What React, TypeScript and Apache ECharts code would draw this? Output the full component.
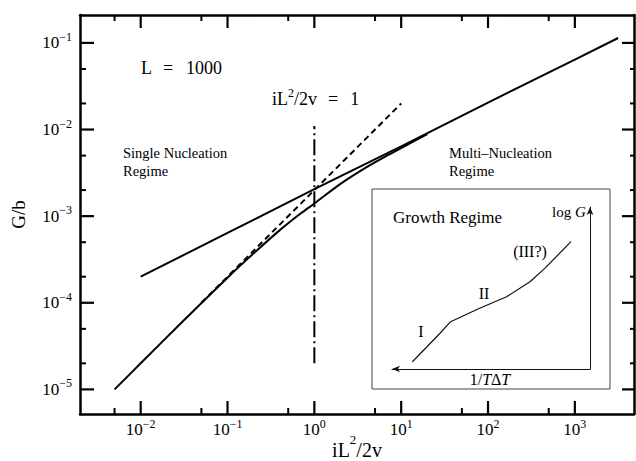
import React, { useEffect, useRef } from "react";
import * as echarts from "echarts";

// ---- data ----
const xMajor = [1e-2, 1e-1, 1, 1e1, 1e2, 1e3];
const xMinor = [5e-3, 5e-2, 5e-1, 5, 50, 500];
const yMajor = [1e-5, 1e-4, 1e-3, 1e-2, 1e-1];
const yMinor = [2e-5, 5e-5, 2e-4, 5e-4, 2e-3, 5e-3, 2e-2, 5e-2];

const upperX = [0.01, 0.1, 1, 10, 100, 1000, 3150];
const upperY = [2.0e-4, 6.4e-4, 2.05e-3, 6.4e-3, 2.05e-2, 6.4e-2, 0.114];

const lowerX = [0.005, 0.01, 0.03, 0.1, 0.2, 0.4, 0.7, 1, 2, 4, 7, 12, 20];
const lowerY = [1.0e-5, 2.0e-5, 6.0e-5, 1.95e-4, 3.72e-4, 6.9e-4, 1.08e-3, 1.4e-3, 2.36e-3, 3.68e-3, 5.05e-3, 6.75e-3, 8.85e-3];

const dashX = [0.05, 10];
const dashY = [1.0e-4, 2.0e-2];

const markX = [1, 1];
const markY = [2.0e-5, 1.1e-2];

const insetX = [10.3, 23.9, 29.6, 43.4, 57.9, 69.7, 77.3, 90.4];
const insetY = [4.5, 21.6, 29.2, 37.0, 44.6, 53.9, 62.3, 78.6];

const xMin = 2e-3;
const xMax = 4.8e3;
const yMin = 5.2e-6;
const yMax = 0.21;

// plot area (pixels)
const G = { left: 80, top: 15, width: 554, height: 399 };

const serif = '"Liberation Serif", "Times New Roman", serif';

const zip = (a: number[], b: number[]) => a.map((v, i) => [v, b[i]]);

function supLabel(v: number) {
  const e = Math.round(Math.log10(v));
  const s = e < 0 ? "\u2212" + -e : String(e);
  return `{b|10}{s|${s}}`;
}

const tickRich = {
  b: { fontFamily: serif, fontSize: 17, lineHeight: 17, color: "#000", verticalAlign: "middle" },
  s: { fontFamily: serif, fontSize: 12, lineHeight: 12, color: "#000", padding: [0, 0, 12, 0], verticalAlign: "middle" },
};

const lineC = "#000";

function logAxis(dim: "x" | "y", position: string, labels: boolean, extra: any = {}) {
  const isX = dim === "x";
  return {
    type: "log",
    logBase: 10,
    gridIndex: 0,
    position,
    min: isX ? xMin : yMin,
    max: isX ? xMax : yMax,
    splitLine: { show: false },
    axisLine: { show: true, onZero: false, lineStyle: { color: lineC, width: 2.5 } },
    axisTick: { show: false },
    axisLabel: labels
      ? {
          show: true,
          customValues: isX ? xMajor : yMajor,
          formatter: supLabel,
          margin: isX ? 7 : 8,
          rich: tickRich,
          color: "#000",
        }
      : { show: false },
    ...extra,
  };
}

const baseGraphic: any[] = [
  { type: "rect", shape: { x: 372, y: 189, width: 238, height: 200 }, style: { fill: "none", stroke: "#444", lineWidth: 1 }, silent: true },
  { type: "text", x: 141, y: 68, style: { text: "L", font: `18px ${serif}`, fill: "#000", verticalAlign: "middle" } },
  { type: "text", x: 163, y: 68, style: { text: "=", font: `18px ${serif}`, fill: "#000", verticalAlign: "middle" } },
  { type: "text", x: 186, y: 68, style: { text: "1000", font: `18px ${serif}`, fill: "#000", verticalAlign: "middle" } },
  {
    type: "text",
    x: 272,
    y: 99,
    style: {
      text: "{n|iL}{s|2}{n|/2v}{e|=}{n|1}",
      verticalAlign: "middle",
      rich: {
        n: { fontFamily: serif, fontSize: 18, lineHeight: 18, fill: "#000", verticalAlign: "middle" },
        e: { fontFamily: serif, fontSize: 18, lineHeight: 18, fill: "#000", verticalAlign: "middle", padding: [0, 12, 0, 11] },
        s: { fontFamily: serif, fontSize: 12, lineHeight: 12, fill: "#000", verticalAlign: "middle", padding: [0, 0, 12, 0] },
      },
    },
  },
  { type: "text", x: 123, y: 144, style: { text: "Single Nucleation\nRegime", font: `14.5px ${serif}`, lineHeight: 18, fill: "#000" } },
  { type: "text", x: 449, y: 144, style: { text: "Multi\u2013Nucleation\nRegime", font: `14.5px ${serif}`, lineHeight: 18, fill: "#000" } },
  { type: "text", x: 393, y: 217, style: { text: "Growth Regime", font: `17px ${serif}`, fill: "#000", verticalAlign: "middle" } },
  {
    type: "text",
    x: 552,
    y: 212,
    style: {
      text: "{r|log }{i|G}",
      verticalAlign: "middle",
      rich: {
        r: { fontFamily: serif, fontSize: 15, fill: "#000" },
        i: { fontFamily: serif, fontSize: 15, fontStyle: "italic", fill: "#000" },
      },
    },
  },
  {
    type: "text",
    x: 490,
    y: 379,
    style: {
      text: "{r|1/}{i|T}{r|\u0394}{i|T}",
      align: "center",
      verticalAlign: "middle",
      rich: {
        r: { fontFamily: serif, fontSize: 16, fill: "#000" },
        i: { fontFamily: serif, fontSize: 16, fontStyle: "italic", fill: "#000" },
      },
    },
  },
  { type: "text", x: 421, y: 331, style: { text: "I", font: `16px ${serif}`, fill: "#000", align: "center", verticalAlign: "middle" } },
  { type: "text", x: 484, y: 293, style: { text: "II", font: `16px ${serif}`, fill: "#000", align: "center", verticalAlign: "middle" } },
  { type: "text", x: 530, y: 251, style: { text: "(III?)", font: `16px ${serif}`, fill: "#000", align: "center", verticalAlign: "middle" } },
];

export default function App() {
  const ref = useRef<HTMLDivElement>(null);
  useEffect(() => {
    if (!ref.current) return;
    const chart = echarts.init(ref.current, null, { renderer: "svg" });
    const option: any = {
      animation: false,
      backgroundColor: "#fff",
      grid: [
        { ...G, containLabel: false, outerBoundsMode: "none" },
        { left: 392, top: 207, width: 198, height: 162, containLabel: false, outerBoundsMode: "none" },
      ],
      xAxis: [
        logAxis("x", "bottom", true, {
          name: "{n|iL}{s|2}{n|/2v}",
          nameLocation: "middle",
          nameGap: 26,
          nameMoveOverlap: false,
          nameTextStyle: {
            rich: {
              n: { fontFamily: serif, fontSize: 20, lineHeight: 20, color: "#000", verticalAlign: "middle" },
              s: { fontFamily: serif, fontSize: 13, lineHeight: 13, color: "#000", padding: [0, 0, 22, 0], verticalAlign: "middle" },
            },
          },
        }),
        {
          type: "value",
          gridIndex: 1,
          position: "bottom",
          min: 0,
          max: 100,
          splitLine: { show: false },
          axisTick: { show: false },
          axisLabel: { show: false },
          axisLine: { show: true, onZero: false, symbol: ["arrow", "none"], symbolSize: [5, 8], lineStyle: { color: "#111", width: 1 } },
        },
        logAxis("x", "top", false),
      ],
      yAxis: [
        logAxis("y", "left", true, {
          name: "G/b",
          nameLocation: "middle",
          nameGap: 52,
          nameRotate: 90,
          nameTextStyle: { fontFamily: serif, fontSize: 19, color: "#000" },
        }),
        {
          type: "value",
          gridIndex: 1,
          position: "right",
          min: 0,
          max: 100,
          splitLine: { show: false },
          axisTick: { show: false },
          axisLabel: { show: false },
          axisLine: { show: true, onZero: false, symbol: ["none", "arrow"], symbolSize: [5, 8], lineStyle: { color: "#111", width: 1 } },
        },
        logAxis("y", "right", false),
      ],
      series: [
        {
          type: "line",
          xAxisIndex: 0,
          yAxisIndex: 0,
          data: zip(upperX, upperY),
          symbol: "none",
          lineStyle: { color: lineC, width: 2 },
          silent: true,
        },
        {
          type: "line",
          xAxisIndex: 0,
          yAxisIndex: 0,
          data: zip(lowerX, lowerY),
          symbol: "none",
          smooth: 0.3,
          lineStyle: { color: lineC, width: 2 },
          silent: true,
        },
        {
          type: "line",
          xAxisIndex: 0,
          yAxisIndex: 0,
          data: zip(dashX, dashY),
          symbol: "none",
          lineStyle: { color: lineC, width: 2, type: [6, 4] },
          silent: true,
        },
        {
          type: "line",
          xAxisIndex: 0,
          yAxisIndex: 0,
          data: zip(markX, markY),
          symbol: "none",
          lineStyle: { color: lineC, width: 2, type: [16, 4, 2, 4] },
          silent: true,
        },
        {
          type: "line",
          xAxisIndex: 1,
          yAxisIndex: 1,
          data: zip(insetX, insetY),
          symbol: "none",
          lineStyle: { color: "#111", width: 1.2 },
          silent: true,
        },
      ],
      graphic: baseGraphic,
    };
    chart.setOption(option);

    // tick marks on all four edges, positioned through the grid's own log scales
    const toPx = (p: number[]) => chart.convertToPixel({ gridIndex: 0 }, p) as number[];
    const bottom = toPx([xMin, yMin])[1];
    const top = toPx([xMin, yMax])[1];
    const left = toPx([xMin, yMin])[0];
    const right = toPx([xMax, yMin])[0];
    const ticks: any[] = [];
    const seg = (x1: number, y1: number, x2: number, y2: number, w: number) =>
      ticks.push({ type: "line", z: 100, silent: true, shape: { x1, y1, x2, y2 }, style: { stroke: lineC, lineWidth: w } });
    const xt = (vals: number[], len: number, w: number) =>
      vals.forEach((v) => {
        const x = toPx([v, yMin])[0];
        seg(x, bottom, x, bottom - len, w);
        seg(x, top, x, top + len, w);
      });
    const yt = (vals: number[], len: number, rlen: number, w: number) =>
      vals.forEach((v) => {
        const y = toPx([xMin, v])[1];
        seg(left, y, left + len, y, w);
        seg(right, y, right - rlen, y, w);
      });
    xt(xMajor, 13, 2.2);
    xt(xMinor, 6, 2);
    yt(yMajor, 14, 12, 2.2);
    yt(yMinor, 6, 4, 2);
    chart.setOption({ graphic: [...baseGraphic, ...ticks] });

    return () => chart.dispose();
  }, []);
  return <div ref={ref} style={{ position: "fixed", left: 0, top: 0, width: 636, height: 461 }} />;
}
